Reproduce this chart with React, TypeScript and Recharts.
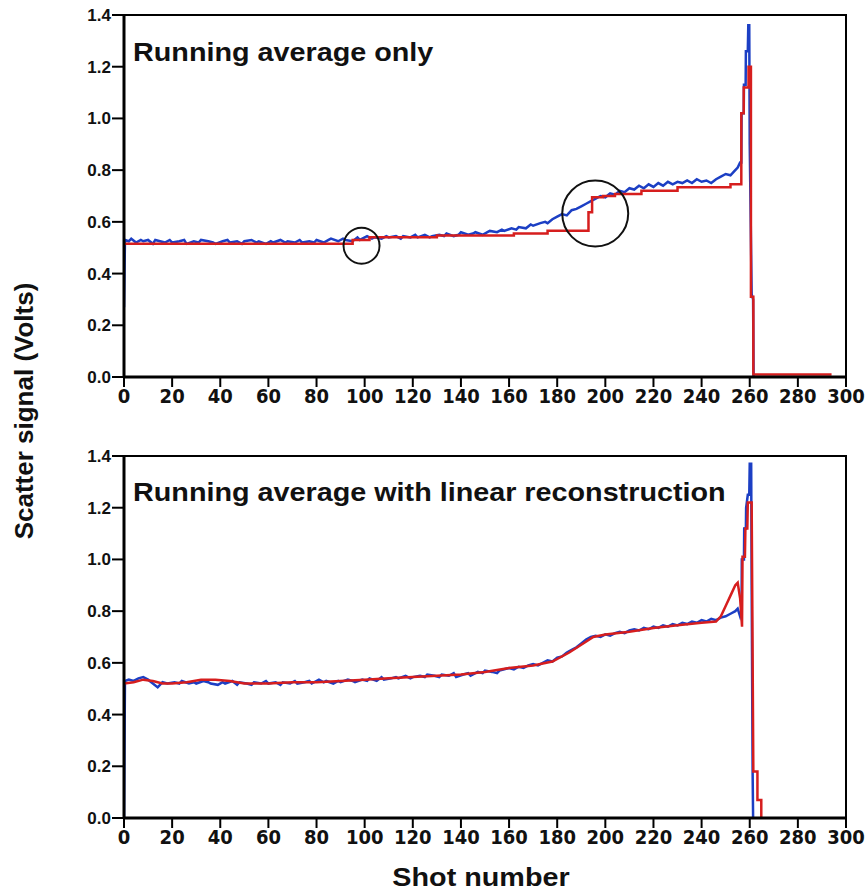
import React from "react";
import {
  Line,
  LineChart,
  ReferenceArea,
  ReferenceDot,
  XAxis,
  YAxis,
} from "recharts";

const SHOT_TICKS = [0, 20, 40, 60, 80, 100, 120, 140, 160, 180, 200, 220, 240, 260, 280, 300];
const VOLT_TICKS = [0, 0.2, 0.4, 0.6, 0.8, 1.0, 1.2, 1.4];

// [shot, volts]
const topMeasured: [number, number][] = [
  [0, 0.27], [0.4, 0.53], [2, 0.525], [3, 0.535], [5, 0.52], [7, 0.53], [8, 0.525], [10, 0.53],
  [12, 0.515], [13, 0.53], [15, 0.525], [17, 0.52], [19, 0.53], [20, 0.52], [23, 0.525], [25, 0.53],
  [26, 0.515], [29, 0.525], [31, 0.52], [32, 0.53], [35, 0.525], [37, 0.52], [38, 0.515], [41, 0.525],
  [43, 0.53], [44, 0.52], [47, 0.525], [49, 0.515], [50, 0.525], [53, 0.53], [55, 0.52], [56, 0.525],
  [59, 0.515], [61, 0.525], [62, 0.52], [65, 0.53], [67, 0.52], [68, 0.525], [71, 0.52], [73, 0.53],
  [74, 0.52], [77, 0.525], [79, 0.52], [80, 0.53], [83, 0.52], [85, 0.53], [86, 0.535], [89, 0.525],
  [91, 0.535], [92, 0.53], [95, 0.525], [97, 0.54], [98, 0.53], [101, 0.545], [103, 0.535], [104, 0.54],
  [107, 0.535], [109, 0.545], [110, 0.54], [113, 0.545], [115, 0.535], [116, 0.545], [119, 0.54], [121, 0.55],
  [122, 0.54], [125, 0.55], [127, 0.54], [128, 0.545], [131, 0.55], [133, 0.545], [134, 0.555], [137, 0.545],
  [139, 0.55], [140, 0.56], [143, 0.55], [145, 0.555], [146, 0.56], [149, 0.55], [151, 0.56], [152, 0.565],
  [155, 0.56], [157, 0.57], [158, 0.565], [161, 0.575], [163, 0.57], [164, 0.58], [167, 0.575], [169, 0.59],
  [170, 0.585], [173, 0.595], [175, 0.6], [176, 0.595], [178, 0.61], [180, 0.62], [182, 0.63], [184, 0.625],
  [186, 0.645], [188, 0.65], [190, 0.66], [192, 0.67], [194, 0.68], [196, 0.69], [198, 0.7], [200, 0.695],
  [202, 0.71], [204, 0.705], [206, 0.72], [208, 0.715], [210, 0.73], [212, 0.725], [214, 0.74], [216, 0.73],
  [218, 0.745], [220, 0.735], [222, 0.75], [224, 0.74], [226, 0.755], [228, 0.745], [230, 0.755], [232, 0.75],
  [234, 0.76], [236, 0.75], [238, 0.765], [240, 0.755], [242, 0.76], [244, 0.75], [246, 0.765], [248, 0.775],
  [250, 0.785], [252, 0.78], [254, 0.8], [255, 0.81], [256, 0.83], [256.5, 0.83], [256.6, 1.02], [257.5, 1.02],
  [257.6, 1.13], [258.3, 1.13], [258.4, 1.26], [259.2, 1.26], [259.4, 1.36], [259.8, 1.36], [260, 0.9],
  [260.8, 0.32], [261.4, 0.3], [261.6, 0],
];

const topAverage: [number, number][] = [
  [0, 0.515], [95, 0.53], [102, 0.54], [130, 0.547], [162, 0.555], [176, 0.566], [193, 0.637],
  [194.5, 0.695], [199, 0.7], [204, 0.708], [215, 0.72], [230, 0.734], [252, 0.745], [256.5, 1.02],
  [257.5, 1.12], [259.5, 1.2], [260.5, 0.31], [261.5, 0.01], [294, 0.01],
];

const bottomMeasured: [number, number][] = [
  [0, 0], [0.4, 0.53], [2, 0.535], [4, 0.53], [6, 0.54], [8, 0.545], [10, 0.535], [12, 0.52],
  [14, 0.505], [16, 0.525], [18, 0.52], [21, 0.525], [23, 0.52], [24, 0.53], [27, 0.52], [29, 0.525],
  [30, 0.52], [33, 0.53], [35, 0.525], [36, 0.52], [39, 0.515], [41, 0.525], [42, 0.52], [45, 0.53],
  [47, 0.515], [48, 0.525], [51, 0.52], [53, 0.515], [54, 0.525], [57, 0.52], [59, 0.53], [60, 0.52],
  [63, 0.525], [65, 0.515], [66, 0.525], [69, 0.52], [71, 0.53], [72, 0.52], [75, 0.525], [77, 0.53],
  [78, 0.52], [81, 0.535], [83, 0.525], [84, 0.53], [87, 0.52], [89, 0.53], [90, 0.525], [93, 0.535],
  [95, 0.53], [96, 0.525], [99, 0.535], [101, 0.53], [102, 0.54], [105, 0.53], [107, 0.545], [108, 0.535],
  [111, 0.54], [113, 0.545], [114, 0.54], [117, 0.55], [119, 0.54], [120, 0.545], [123, 0.55], [125, 0.545],
  [126, 0.555], [129, 0.55], [131, 0.545], [132, 0.555], [135, 0.55], [137, 0.56], [138, 0.545], [141, 0.555],
  [143, 0.56], [144, 0.55], [147, 0.565], [149, 0.56], [150, 0.57], [153, 0.565], [155, 0.56], [156, 0.57],
  [158, 0.575], [160, 0.58], [162, 0.575], [164, 0.585], [166, 0.58], [168, 0.59], [170, 0.595], [172, 0.59],
  [174, 0.6], [176, 0.61], [178, 0.605], [180, 0.62], [182, 0.625], [184, 0.64], [186, 0.65], [188, 0.66],
  [190, 0.675], [192, 0.69], [194, 0.7], [196, 0.705], [198, 0.7], [200, 0.71], [202, 0.705], [204, 0.715],
  [206, 0.72], [208, 0.715], [210, 0.725], [212, 0.73], [214, 0.725], [216, 0.735], [218, 0.73], [220, 0.74],
  [222, 0.735], [224, 0.745], [226, 0.74], [228, 0.75], [230, 0.745], [232, 0.755], [234, 0.75], [236, 0.76],
  [238, 0.755], [240, 0.765], [242, 0.76], [244, 0.77], [246, 0.765], [248, 0.775], [250, 0.78], [252, 0.79],
  [254, 0.8], [255, 0.81], [256, 0.78], [256.6, 0.8], [256.7, 1.0], [257.6, 1.0], [257.7, 1.12], [258.4, 1.12],
  [258.5, 1.2], [259.2, 1.25], [259.8, 1.25], [260, 1.37], [260.6, 1.37], [260.8, 0.9], [261.2, 0.18], [261.4, 0],
];

const bottomReconstructed: [number, number][] = [
  [0, 0.52], [4, 0.525], [8, 0.535], [12, 0.53], [16, 0.52], [20, 0.52], [26, 0.525], [32, 0.535],
  [38, 0.535], [44, 0.53], [50, 0.52], [60, 0.52], [70, 0.525], [80, 0.525], [90, 0.53], [100, 0.535],
  [110, 0.54], [120, 0.545], [130, 0.55], [140, 0.555], [150, 0.565], [160, 0.58], [170, 0.59], [178, 0.605],
  [185, 0.64], [190, 0.67], [195, 0.7], [200, 0.71], [210, 0.72], [220, 0.735], [230, 0.745], [240, 0.755],
  [246, 0.76], [248, 0.78], [250, 0.82], [252, 0.86], [254, 0.9], [255, 0.91], [256, 0.85], [256.8, 0.74],
  [257, 1.01], [258, 1.01], [258.2, 1.12], [259, 1.12], [259.2, 1.22], [260.8, 1.22], [261.5, 0.18],
  [263.2, 0.18], [263.2, 0.07], [264.8, 0.07], [264.8, 0],
];

// circled spots on the upper panel: shot, volts, radius
const markedSpots: [number, number, number][] = [
  [98.7, 0.508, 18],
  [195.8, 0.632, 33],
];

const BLUE = "#1c3fc4";
const RED = "#d61e1e";
const FONT = '"Liberation Sans", Arial, Helvetica, sans-serif';
const NARROW = '"Liberation Sans Narrow", "DejaVu Sans Condensed", "Liberation Sans", Arial, sans-serif';

const toRows = (pts: [number, number][]) => pts.map(([x, y]) => ({ x, y }));

interface PanelProps {
  measured: [number, number][];
  average: [number, number][];
  averageType: "stepAfter" | "linear";
  circles?: [number, number, number][];
}

function Panel({ measured, average, averageType, circles = [] }: PanelProps) {
  return (
    <LineChart
      width={865}
      height={420}
      margin={{ top: 15, right: 19, left: 0, bottom: 0 }}
    >
      <XAxis
        dataKey="x"
        type="number"
        domain={[0, 300]}
        ticks={SHOT_TICKS}
        interval={0}
        allowDataOverflow
        height={43}
        tickSize={10}
        tickMargin={2}
        axisLine={{ stroke: "#000", strokeWidth: 3 }}
        tickLine={{ stroke: "#000", strokeWidth: 2 }}
        tick={{ fill: "#111", fontSize: 20, fontWeight: 700, fontFamily: NARROW }}
      />
      <YAxis
        dataKey="y"
        type="number"
        domain={[0, 1.4]}
        ticks={VOLT_TICKS}
        interval={0}
        allowDataOverflow
        width={124}
        tickSize={12}
        tickMargin={1}
        axisLine={{ stroke: "#000", strokeWidth: 3 }}
        tickLine={{ stroke: "#000", strokeWidth: 2 }}
        tick={{ fill: "#111", fontSize: 17, fontWeight: 700, fontFamily: FONT }}
        tickFormatter={(v) => Number(v).toFixed(1)}
      />
      <ReferenceArea
        x1={0}
        x2={300}
        y1={0}
        y2={1.4}
        fill="none"
        stroke="#000"
        strokeWidth={2}
      />
      <Line
        data={toRows(measured)}
        dataKey="y"
        type="linear"
        stroke={BLUE}
        strokeWidth={2.5}
        dot={false}
        isAnimationActive={false}
      />
      <Line
        data={toRows(average)}
        dataKey="y"
        type={averageType}
        stroke={RED}
        strokeWidth={2.5}
        dot={false}
        isAnimationActive={false}
      />
      {circles.map(([x, y, r]) => (
        <ReferenceDot
          key={x}
          x={x}
          y={y}
          r={r}
          fill="none"
          stroke="#111"
          strokeWidth={2}
        />
      ))}
    </LineChart>
  );
}

export default function App() {
  return (
    <div
      style={{
        position: "absolute",
        left: 0,
        top: 0,
        width: 865,
        height: 892,
        background: "#fff",
        overflow: "hidden",
      }}
    >
      <div style={{ position: "absolute", left: 0, top: 0 }}>
        <Panel
          measured={topMeasured}
          average={topAverage}
          averageType="stepAfter"
          circles={markedSpots}
        />
      </div>
      <div style={{ position: "absolute", left: 0, top: 441 }}>
        <Panel
          measured={bottomMeasured}
          average={bottomReconstructed}
          averageType="linear"
        />
      </div>
      <svg
        width={865}
        height={892}
        style={{ position: "absolute", left: 0, top: 0, pointerEvents: "none" }}
        fontFamily={FONT}
        fontWeight={700}
        fill="#111"
      >
        <text transform="translate(133,61) scale(1.15,1)" fontSize={25}>
          Running average only
        </text>
        <text transform="translate(133,501) scale(1.15,1)" fontSize={25}>
          Running average with linear reconstruction
        </text>
        <text transform="translate(481,886) scale(1.15,1)" fontSize={25} textAnchor="middle">
          Shot number
        </text>
        <text transform="translate(33,411) rotate(-90)" fontSize={26} textAnchor="middle">
          Scatter signal (Volts)
        </text>
      </svg>
    </div>
  );
}
